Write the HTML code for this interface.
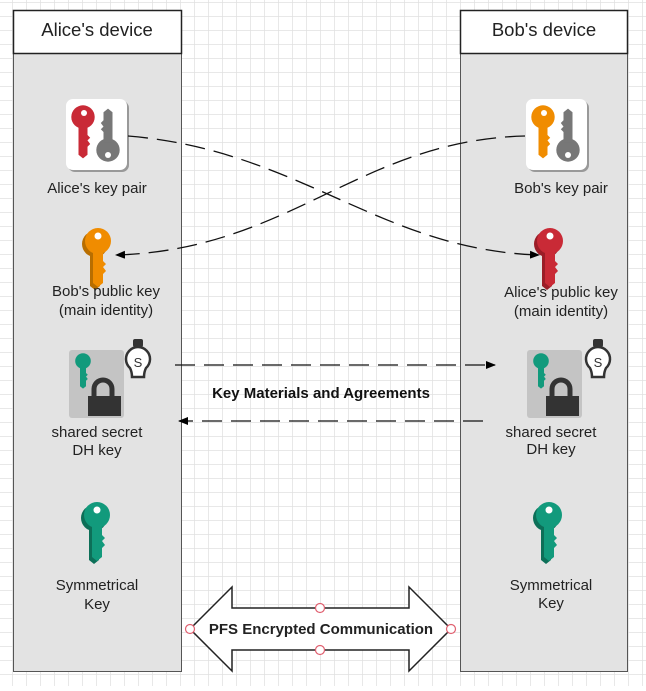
<!DOCTYPE html>
<html><head><style>
body{margin:0;width:646px;height:686px;overflow:hidden;background:#fff;font-family:"Liberation Sans",sans-serif}
</style></head><body>
<svg width="646" height="686" viewBox="0 0 646 686" xmlns="http://www.w3.org/2000/svg" font-family="Liberation Sans, sans-serif">
<defs>
<pattern id="g" x="-2" y="2" width="14" height="14" patternUnits="userSpaceOnUse">
<path d="M14 0H0V14" fill="none" stroke="#e0e0e0" stroke-width="1.5"/>
</pattern>
<g id="key">
<circle cx="0" cy="0" r="13"/>
<path d="M-5 8 H5 V20 L8 23 L5 26 L8 30 L5 33 V42 L0 46 L-5 42 Z"/>
</g>
<marker id="ar" markerWidth="10" markerHeight="8" refX="9" refY="4" orient="auto" markerUnits="userSpaceOnUse"><path d="M0 0L10 4L0 8z" fill="#000"/></marker>
</defs>
<rect width="646" height="686" fill="url(#g)"/>
<!-- boxes -->
<rect x="13.5" y="53.5" width="168" height="618" fill="#e3e3e3" stroke="#555"/>
<rect x="13.5" y="10.5" width="168" height="43" fill="#fff" stroke="#222" stroke-width="1.5"/>
<text x="97" y="36" font-size="18.5" text-anchor="middle" fill="#222">Alice's device</text>
<rect x="460.5" y="53.5" width="167" height="618" fill="#e3e3e3" stroke="#555"/>
<rect x="460.5" y="10.5" width="167" height="43" fill="#fff" stroke="#222" stroke-width="1.5"/>
<text x="544" y="36" font-size="18.5" text-anchor="middle" fill="#222">Bob's device</text>

<!-- Alice key pair -->
<rect x="68" y="101" width="61" height="71" rx="7" fill="#999"/>
<rect x="66" y="99" width="61" height="71" rx="7" fill="#fff"/>
<g fill="#c92a36" transform="translate(83,117) scale(0.9)"><use href="#key"/></g>
<circle cx="84" cy="113" r="3" fill="#fff"/>
<g fill="#777" transform="translate(108,150) scale(0.9) rotate(180)"><use href="#key"/></g>
<circle cx="108" cy="155" r="3" fill="#fff"/>
<text x="97" y="193" font-size="15" text-anchor="middle" fill="#222">Alice's key pair</text>

<!-- Bob public key left -->
<g fill="#b86e00" transform="translate(95,244)"><use href="#key"/></g>
<g fill="#f08c00" transform="translate(98,241)"><use href="#key"/></g>
<circle cx="98" cy="236" r="3.5" fill="#fff"/>
<text x="106" y="296" font-size="15" text-anchor="middle" fill="#222">Bob's public key</text>
<text x="106" y="315" font-size="15" text-anchor="middle" fill="#222">(main identity)</text>

<!-- shared left -->
<rect x="69" y="350" width="55" height="68" rx="3" fill="#c4c4c4"/>
<g fill="#129a7c" transform="translate(83,361) scale(0.6)"><use href="#key"/></g>
<path d="M94 397v-8a9 9 0 0 1 18 0v8" fill="none" stroke="#333" stroke-width="5"/>
<rect x="88" y="396" width="33" height="20" fill="#333"/>
<path d="M130 368a12 12 0 1 1 16 0q-2 4 -2 9h-12q0-5-2-9z" fill="#fff" stroke="#333" stroke-width="2.5"/>
<rect x="133" y="339" width="10" height="8" rx="2" fill="#333"/>
<text x="138" y="367" font-size="13" text-anchor="middle" fill="#333">S</text>
<text x="97" y="437" font-size="15" text-anchor="middle" fill="#222">shared secret</text>
<text x="97" y="455" font-size="15" text-anchor="middle" fill="#222">DH key</text>

<!-- sym left -->
<g fill="#0d6f58" transform="translate(94,518)"><use href="#key"/></g>
<g fill="#129a7c" transform="translate(97,515)"><use href="#key"/></g>
<circle cx="97" cy="510" r="3.5" fill="#fff"/>
<text x="97" y="590" font-size="15" text-anchor="middle" fill="#222">Symmetrical</text>
<text x="97" y="609" font-size="15" text-anchor="middle" fill="#222">Key</text>

<!-- Bob key pair -->
<rect x="528" y="101" width="61" height="71" rx="7" fill="#999"/>
<rect x="526" y="99" width="61" height="71" rx="7" fill="#fff"/>
<g fill="#f08c00" transform="translate(543,117) scale(0.9)"><use href="#key"/></g>
<circle cx="544" cy="113" r="3" fill="#fff"/>
<g fill="#777" transform="translate(568,150) scale(0.9) rotate(180)"><use href="#key"/></g>
<circle cx="568" cy="155" r="3" fill="#fff"/>
<text x="561" y="193" font-size="15" text-anchor="middle" fill="#222">Bob's key pair</text>

<!-- Alice public right -->
<g fill="#9b1d27" transform="translate(547,244)"><use href="#key"/></g>
<g fill="#c92a36" transform="translate(550,241)"><use href="#key"/></g>
<circle cx="550" cy="236" r="3.5" fill="#fff"/>
<text x="561" y="297" font-size="15" text-anchor="middle" fill="#222">Alice's public key</text>
<text x="561" y="316" font-size="15" text-anchor="middle" fill="#222">(main identity)</text>

<!-- shared right -->
<rect x="527" y="350" width="55" height="68" rx="3" fill="#c4c4c4"/>
<g fill="#129a7c" transform="translate(541,361) scale(0.6)"><use href="#key"/></g>
<path d="M552 397v-8a9 9 0 0 1 18 0v8" fill="none" stroke="#333" stroke-width="5"/>
<rect x="546" y="396" width="33" height="20" fill="#333"/>
<path d="M590 368a12 12 0 1 1 16 0q-2 4 -2 9h-12q0-5-2-9z" fill="#fff" stroke="#333" stroke-width="2.5"/>
<rect x="593" y="339" width="10" height="8" rx="2" fill="#333"/>
<text x="598" y="367" font-size="13" text-anchor="middle" fill="#333">S</text>
<text x="551" y="437" font-size="15" text-anchor="middle" fill="#222">shared secret</text>
<text x="551" y="454" font-size="15" text-anchor="middle" fill="#222">DH key</text>

<!-- sym right -->
<g fill="#0d6f58" transform="translate(546,518)"><use href="#key"/></g>
<g fill="#129a7c" transform="translate(549,515)"><use href="#key"/></g>
<circle cx="549" cy="510" r="3.5" fill="#fff"/>
<text x="551" y="590" font-size="15" text-anchor="middle" fill="#222">Symmetrical</text>
<text x="551" y="608" font-size="15" text-anchor="middle" fill="#222">Key</text>

<!-- connectors -->
<g fill="none" stroke="#111" stroke-width="1.3" stroke-dasharray="20,9">
<path d="M128 136 C 300 150, 380 250, 539 255" marker-end="url(#ar)"/>
<path d="M525 136 C 360 140, 290 250, 116 255" marker-end="url(#ar)"/>
<path d="M175 365 H495" marker-end="url(#ar)"/>
<path d="M483 421 H179" marker-end="url(#ar)"/>
</g>
<text x="321" y="398" font-size="15" font-weight="bold" text-anchor="middle" fill="#111">Key Materials and Agreements</text>

<!-- double arrow -->
<path d="M190 629 L232 587 V608 H409 V587 L451 629 L409 671 V650 H232 V671 Z" fill="#fff" stroke="#222" stroke-width="1.5"/>
<text x="321" y="634" font-size="15" font-weight="bold" text-anchor="middle" fill="#222">PFS Encrypted Communication</text>
<g fill="#fff" stroke="#e06070" stroke-width="1.2">
<circle cx="320" cy="608" r="4.5"/><circle cx="320" cy="650" r="4.5"/>
<circle cx="190" cy="629" r="4.5"/><circle cx="451" cy="629" r="4.5"/>
</g>
</svg>
</body></html>
